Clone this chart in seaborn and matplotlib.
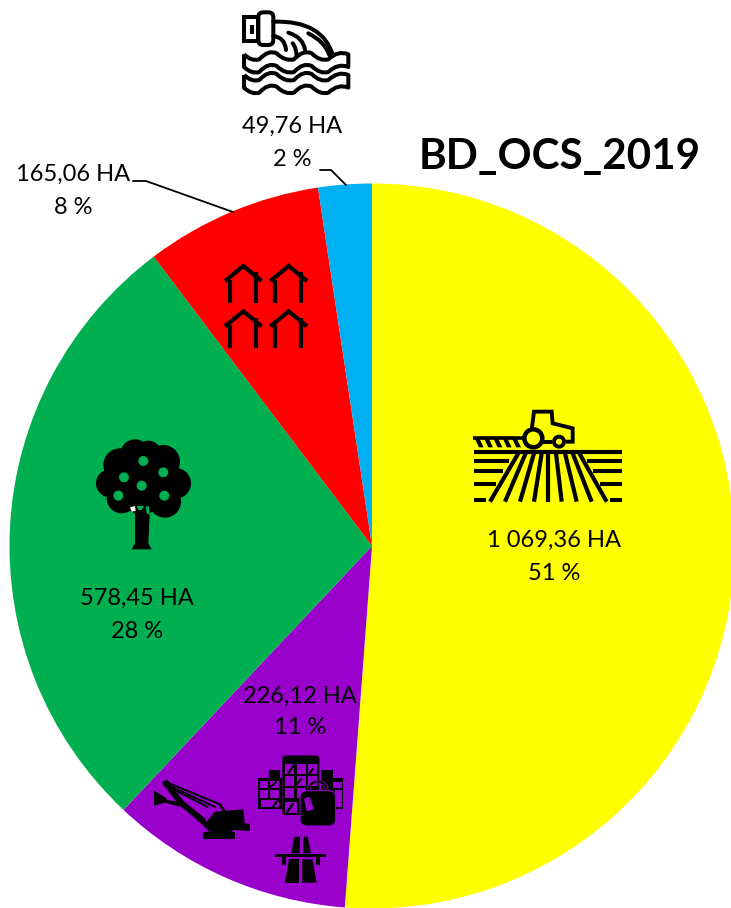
import numpy as np
import matplotlib
matplotlib.use("Agg")
import matplotlib.pyplot as plt
from matplotlib.patches import Polygon, Circle, FancyBboxPatch, PathPatch, Wedge
from matplotlib.path import Path
import seaborn as sns

# ---- data ----
categories = ["Agriculture", "Mines et commerces", "Arboriculture", "Habitat", "Eau"]
surfaces_ha = [1069.36, 226.12, 578.45, 165.06, 49.76]
area_labels = ["1 069,36 HA", "226,12 HA", "578,45 HA", "165,06 HA", "49,76 HA"]
pct_labels = ["51 %", "11 %", "28 %", "8 %", "2 %"]
colours = ["#FFFF00", "#9900CC", "#00B050", "#FF0000", "#00B0F0"]
title = "BD_OCS_2019"

W, H = 731, 908
sns.set_theme(style="white")
plt.rcParams["font.family"] = ["Lato", "DejaVu Sans"]

fig = plt.figure(figsize=(W / 100, H / 100), dpi=100)
ax = fig.add_axes([0, 0, 1, 1])
palette = sns.color_palette(colours)
ax.pie(surfaces_ha, colors=palette, startangle=90, counterclock=False,
       center=(372, H - 546), radius=362.5, frame=True,
       wedgeprops={"edgecolor": "none", "linewidth": 0})
ax.set_xlim(0, W)
ax.set_ylim(0, H)
ax.set_aspect("equal")
ax.axis("off")

K = "black"
LW = 2.9


def mapper(ox, oy):
    """Zoomed-crop coordinates (3x) to figure pixels."""
    def f(x, y):
        return ox + x / 3, H - (oy + y / 3)
    return f


def poly(m, pts, fc=K, z=5):
    ax.add_patch(Polygon([m(*p) for p in pts], closed=True, fc=fc, ec="none", zorder=z))


def line(m, pts, lw=LW, c=K, z=5, cap="butt"):
    xs, ys = zip(*[m(*p) for p in pts])
    ax.plot(xs, ys, color=c, lw=lw, zorder=z, solid_capstyle=cap, solid_joinstyle="miter")


def circ(m, x, y, r, fc=K, ec="none", lw=0, z=5):
    ax.add_patch(Circle(m(x, y), r / 3, fc=fc, ec=ec, lw=lw, zorder=z))


def rect(m, x0, y0, x1, y1, fc=K, z=5):
    poly(m, [(x0, y0), (x1, y0), (x1, y1), (x0, y1)], fc=fc, z=z)


def curve(m, ctrl, lw=LW, c=K, z=5):
    """Quadratic curve through successive (control, end) pairs."""
    verts = [m(*ctrl[0])] + [m(*p) for p in ctrl[1:]]
    codes = [Path.MOVETO] + [Path.CURVE3] * (len(ctrl) - 1)
    ax.add_patch(PathPatch(Path(verts, codes), fc="none", ec=c, lw=lw, zorder=z, capstyle="round"))


# ---- tractor icon ----
m = mapper(460, 400)
line(m, [(215, 90), (222, 35), (275, 35), (278, 70), (338, 85), (338, 125), (318, 125)], lw=2.8)
line(m, [(276, 125), (248, 125)], lw=2.8)
circ(m, 220, 115, 27, fc="#FFFF00", ec=K, lw=3.2)
circ(m, 297, 125, 15, fc="#FFFF00", ec=K, lw=2.8)
line(m, [(40, 113), (190, 113)], lw=2.6)
for x in (50, 78, 106, 134, 162):
    poly(m, [(x - 7, 113), (x + 7, 113), (x + 21, 142), (x + 7, 142)])
line(m, [(42, 157), (487, 157)], lw=3.0)
for y, a, b in [(183, 148, 380), (212, 130, 400), (252, 107, 420), (300, 78, 450)]:
    line(m, [(42, y), (a, y)], lw=2.9)
    line(m, [(b, y), (487, y)], lw=2.9)
for top, bot in zip((175, 197, 222, 245, 265, 288, 315, 338, 358),
                    (90, 135, 180, 222, 265, 305, 350, 395, 440)):
    line(m, [(top, 160), (bot, 305)], lw=3.0)

# ---- tree icon ----
m = mapper(85, 430)
for x, y, r in [(150, 72, 44), (105, 105, 50), (235, 95, 50), (75, 160, 42), (272, 160, 46),
                (190, 70, 38), (110, 205, 45), (240, 215, 48), (170, 205, 50), (175, 145, 105)]:
    circ(m, x, y, r)
for x, y in [(175, 93), (117, 142), (235, 127), (170, 167), (100, 197), (238, 197)]:
    circ(m, x, y, 15, fc="#00B050", z=6)
poly(m, [(150, 235), (195, 235), (190, 340), (200, 358), (140, 358), (150, 340)])
poly(m, [(135, 232), (150, 228), (152, 243), (140, 245)], fc="white", z=6)
poly(m, [(155, 228), (178, 228), (170, 240), (160, 240)], fc="#00B050", z=6)
poly(m, [(182, 230), (192, 228), (194, 255), (185, 250)], fc="#00B050", z=6)

# ---- houses icon ----
for dx in (0, 136):
    for dy in (0, 136):
        m = mapper(210 + dx / 3, 255 + dy / 3)
        line(m, [(45, 78), (100, 33), (155, 78)], lw=3.0)
        line(m, [(60, 75), (60, 143)], lw=3.0)
        line(m, [(138, 52), (138, 143)], lw=3.0)

# ---- outfall icon ----
m = mapper(220, 0)
ax.add_patch(Polygon([m(72, 50), m(115, 50), m(115, 122), m(72, 122)], fc="white", ec=K, lw=LW, zorder=5))
line(m, [(95, 75), (95, 102)], lw=3.0)
x0, y0 = m(115, 135)
x1, y1 = m(160, 37)
ax.add_patch(FancyBboxPatch((x0 + 3, y0 + 3), x1 - x0 - 6, y1 - y0 - 6,
                            boxstyle="round,pad=3,rounding_size=5", fc="white", ec=K, lw=LW, zorder=5))
curve(m, [(160, 65), (310, 60), (340, 170)])
curve(m, [(160, 108), (195, 112), (198, 150)])
curve(m, [(205, 98), (250, 112), (255, 150)])
curve(m, [(265, 100), (315, 125), (328, 165)])
curve(m, [(218, 130), (230, 145), (230, 172)])
for off in (0, 62):
    top = [(72, 163 + off), (95, 185 + off), (118, 178 + off), (145, 148 + off), (170, 160 + off),
           (195, 185 + off), (222, 178 + off), (250, 148 + off), (275, 160 + off), (300, 185 + off),
           (325, 178 + off), (355, 150 + off), (385, 163 + off)]
    b = 38
    bot = [(x, y + b) for x, y in top[::-1]]
    verts = [m(*top[0])] + [m(*p) for p in top[1:]] + [m(*bot[0])]
    codes = [Path.MOVETO] + [Path.CURVE3] * (len(top) - 1) + [Path.LINETO]
    verts += [m(*p) for p in bot[1:]] + [m(*top[0])]
    codes += [Path.CURVE3] * (len(bot) - 1) + [Path.LINETO]
    ax.add_patch(PathPatch(Path(verts, codes), fc="white", ec=K, lw=LW, zorder=6, joinstyle="round"))

# ---- purple sector icons ----
m = mapper(140, 750)
P = "#9900CC"
# excavator
poly(m, [(42, 122), (75, 142), (82, 150), (130, 158), (190, 205), (200, 215), (225, 185), (310, 178),
         (314, 220), (330, 222), (330, 243), (280, 240), (270, 252), (210, 247), (185, 222),
         (128, 172), (75, 158), (42, 167)])
line(m, [(78, 100), (125, 160), (192, 214)], lw=4.2)
line(m, [(78, 96), (245, 165)], lw=1.4)
line(m, [(78, 103), (228, 172)], lw=1.4)
line(m, [(85, 110), (205, 172)], lw=1.4)
line(m, [(240, 165), (255, 185)], lw=2.0)
circ(m, 78, 100, 10)
rect(m, 190, 246, 285, 268)
# shop buildings
x0, y0 = m(427, 195)
ax.add_patch(FancyBboxPatch((x0, y0), 37, 59.5, boxstyle="round,pad=0,rounding_size=3", fc=K, ec="none", zorder=5))
rect(m, 355, 85, 425, 176)
rect(m, 387, 60, 420, 90)
rect(m, 543, 60, 578, 90)
rect(m, 543, 85, 610, 176)
for x0_, x1_ in [(436, 462), (470, 497), (503, 530)]:
    for y0_, y1_ in [(42, 72), (78, 108)]:
        rect(m, x0_, y0_, x1_, y1_, fc=P, z=6)
rect(m, 436, 115, 462, 145, fc=P, z=6)
rect(m, 470, 115, 497, 145, fc=P, z=6)
rect(m, 434, 155, 472, 190, fc=P, z=6)
for x0_, x1_ in [(360, 385), (390, 416)]:
    rect(m, x0_, 92, x1_, 115, fc=P, z=6)
    rect(m, x0_, 120, x1_, 145, fc=P, z=6)
rect(m, 362, 150, 416, 172, fc=P, z=6)
rect(m, 580, 95, 605, 115, fc=P, z=6)
rect(m, 585, 120, 605, 170, fc=P, z=6)
for a, b in [((445, 70), (462, 45)), ((505, 75), (520, 55)), ((390, 112), (410, 95)),
             ((398, 170), (415, 150)), ((440, 188), (460, 160)), ((468, 105), (485, 85))]:
    line(m, [a, b], lw=1.5, z=7)
# shopping bag
ax.add_patch(Wedge(m(533, 122), 10.5, 0, 180, width=2.8, fc=K, ec=P, lw=0.5, zorder=7))
x0, y0 = m(480, 228)
x1, y1 = m(587, 122)
ax.add_patch(FancyBboxPatch((x0, y0), x1 - x0, y1 - y0, boxstyle="round,pad=0,rounding_size=7",
                            fc=K, ec=P, lw=0.8, zorder=7))
poly(m, [(492, 146), (508, 140), (522, 178), (500, 184)], fc=P, z=8)
# highway
poly(m, [(463, 260), (480, 260), (479, 310), (453, 310)])
poly(m, [(490, 260), (503, 260), (513, 310), (489, 310)])
rect(m, 405, 312, 557, 322)
rect(m, 425, 322, 437, 345)
rect(m, 527, 322, 540, 345)
poly(m, [(447, 328), (478, 328), (478, 398), (435, 398)])
poly(m, [(487, 328), (517, 328), (530, 398), (487, 398)])

# ---- labels ----
label_xy = [(554, 540), (300, 696), (137, 598), (73, 174), (292, 126)]
line_gap = [33, 31, 33, 33, 33]
for (x, y), a, p, g in zip(label_xy, area_labels, pct_labels, line_gap):
    ax.text(x, H - y, a, ha="center", va="center", fontsize=17, color=K, zorder=9)
    ax.text(x, H - y - g, p, ha="center", va="center", fontsize=17, color=K, zorder=9)

ax.plot([133, 146, 233], [H - 181, H - 181, H - 212], color=K, lw=1.3, zorder=4)
ax.plot([320, 331, 346], [H - 170, H - 170, H - 185], color=K, lw=1.3, zorder=4)

ax.text(560, H - 157, title, ha="center", va="center", fontsize=30.3, fontweight="bold", color=K)

fig.savefig("out.png", dpi=100)
